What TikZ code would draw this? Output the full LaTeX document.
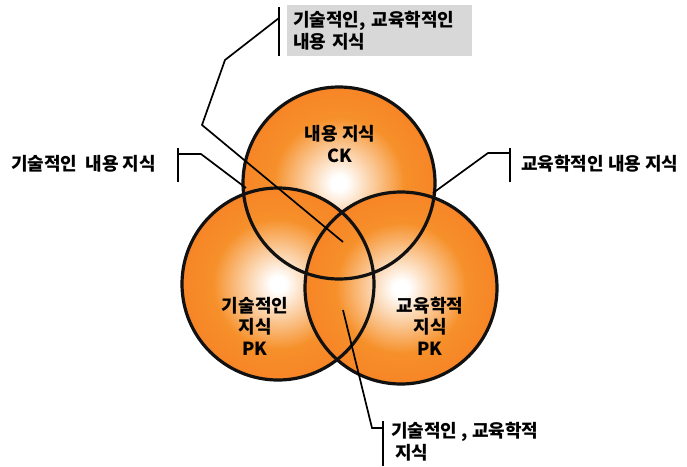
\documentclass[tikz,border=0pt]{standalone}
\usepackage{fontspec}
\newfontfamily\krfont{Noto Sans CJK KR}
\usetikzlibrary{positioning}
\definecolor{Peel}  {HTML}{F6902A}
\definecolor{Rim}   {HTML}{111111}
\definecolor{BoxG}  {HTML}{D8D8D8}
\pgfdeclareradialshading{peach}{\pgfpoint{0bp}{0bp}}{%
  color(0bp)=(white); color(2bp)=(white);
  color(17bp)=(Peel); color(25bp)=(Peel!92!red); color(50bp)=(Peel!92!red)}
\tikzset{
  orb/.style={
    circle, minimum size=192pt, inner sep=0pt,
    shading=peach, shade,
  },
  rim/.style={
    circle, minimum size=192pt, inner sep=0pt,
    draw=Rim, line width=3.2pt,
  },
  txt/.style={
    font=\krfont\bfseries\fontsize{18}{21.5}\selectfont,
    text=black, align=center, inner sep=1pt,
  },
  tag/.style={
    font=\krfont\bfseries\fontsize{18}{22}\selectfont,
    text=black, align=left, inner sep=1pt,
  },
  % callout leader
  lead/.style={draw=black, line width=1.7pt},
  bar/.style={draw=black, line width=2.4pt},
}

\begin{document}
\begin{tikzpicture}[x=1pt,y=-1pt]
  \useasboundingbox (0,0) rectangle (687,466);
  % circles
  \node[orb] (ck) at (339,183) {};
  \node[orb] (tk) at (278,284) {};
  \node[orb] (pk) at (401,288) {};
  \foreach \n in {ck,tk,pk}
    \node[rim] at (\n) {};
  \node[txt] (ckt) at (340,144) {내용 지식\\CK};
  \node[txt] (tkt) at (255,326) {기술적인\\지식\\PK};
  \node[txt] (pkt) at (430,326) {교육학적\\지식\\PK};
  % top callout
  \node[tag, fill=BoxG, anchor=north west, text width=173pt,
        minimum height=51pt, inner xsep=6pt] (all) at (287,5)
        {기술적인, 교육학적인\\내용 지식};
  \coordinate (allp) at (343,242);
  \draw[bar] (279,7) -- (279,56);
  \draw[lead] (279,18) -- (225,60) -- (202,125) -- (allp);
  % left callout
  \node[tag, anchor=west] (tck) at (10,164) {기술적인\ \ 내용 지식};
  \coordinate (tckp) at (246,188);
  \draw[bar] (178,148) -- (178,182);
  \draw[lead] (178,154) -- (201,154) -- (tckp);
  % right callout
  \node[tag, anchor=west] (pck) at (520,164) {교육학적인 내용 지식};
  \coordinate (pckp) at (433,193);
  \draw[bar] (510,148) -- (510,182);
  \draw[lead] (510,153) -- (488,153) -- (pckp);
  % bottom callout
  \node[tag, anchor=north west] (tpk) at (390,421) {기술적인 , 교육학적\\\ 지식};
  \coordinate (tpkp) at (343,310);
  \draw[bar] (383,421) -- (383,466);
  \draw[lead] (tpkp) -- (372,428) -- (383,428);
\end{tikzpicture}
\end{document}
